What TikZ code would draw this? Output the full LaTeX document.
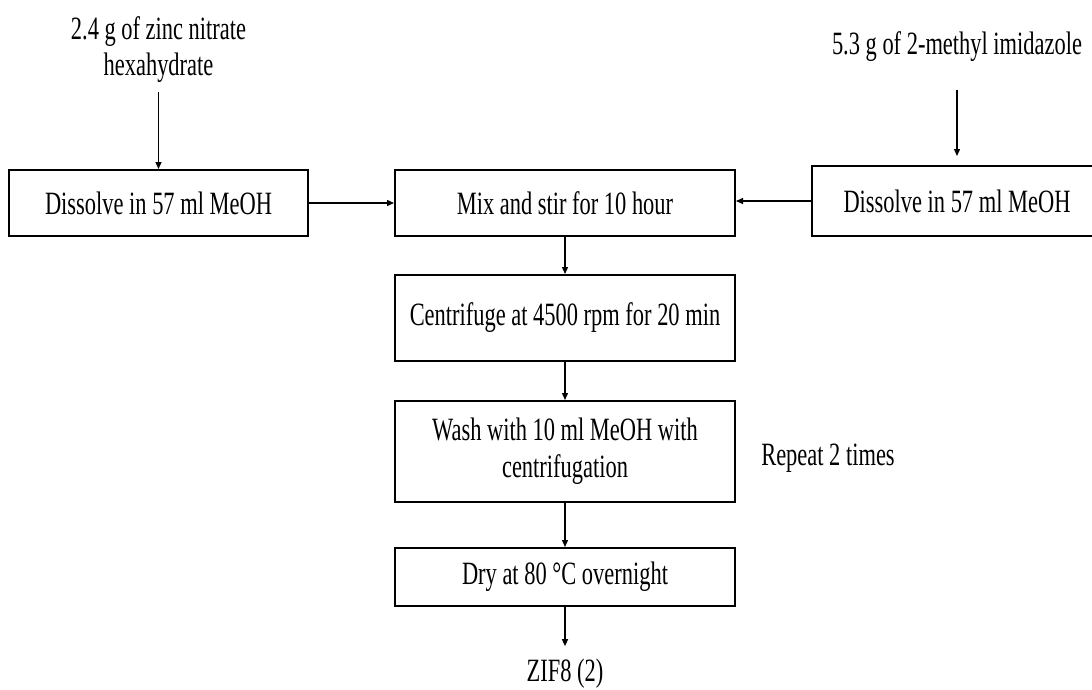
\documentclass[tikz,border=0pt]{standalone}
\usepackage{fontspec}
\setmainfont{Liberation Serif}[FakeStretch=0.69]
\usetikzlibrary{arrows.meta}

\begin{document}
\begin{tikzpicture}[
    x=0.75pt, y=-0.75pt,
    txt/.style={font=\fontsize{24.4pt}{27.5pt}\selectfont, inner sep=0pt, align=center},
    stepbox/.style={txt, draw=black, line width=1.5pt},
    arr/.style={draw=black, line width=1pt, -{Triangle[length=5.25pt,width=4.5pt]}}
  ]
  \useasboundingbox (0,0) rectangle (1092,689);

  % raw materials
  \node[txt, anchor=north] (zn) at (158.5,16) {2.4 g of zinc nitrate\\hexahydrate};
  \node[txt, anchor=base]  (im) at (957,54) {5.3 g of 2-methyl imidazole};

  % process steps
  \node[stepbox, minimum width=224.25pt, minimum height=49.5pt] (dl) at (158.5,203) {Dissolve in 57 ml MeOH};
  \node[stepbox, minimum width=255pt, minimum height=49.5pt]    (mix) at (565,203) {Mix and stir for 10 hour};
  \node[stepbox, minimum width=217.5pt, minimum height=52.5pt]  (dr) at (957,201) {Dissolve in 57 ml MeOH};
  \node[stepbox, minimum width=255pt, minimum height=64.5pt]    (cen) at (565,318) {Centrifuge at 4500 rpm for 20 min};
  \node[stepbox, minimum width=255pt, minimum height=75.75pt]   (wash) at (565,451.5) {Wash with 10 ml MeOH with\\centrifugation};
  \node[stepbox, minimum width=255pt, minimum height=43.5pt]    (dry) at (565,577) {Dry at 80 °C overnight};

  % side note and product
  \node[txt, anchor=base] (rep) at (828,465) {Repeat 2 times};
  \node[txt, anchor=base] (zif) at (565,681) {ZIF8 (2)};

  % connectors
  \draw[arr, shorten <=6.75pt] (zn.south) -- (dl.north);
  \draw[arr, shorten <=21.75pt, shorten >=6.75pt] (im.south) -- (dr.north);
  \draw[arr] (dl.east) -- (mix.west);
  \draw[arr] (dr.west) -- (dr.west -| mix.east);
  \draw[arr] (mix.south) -- (cen.north);
  \draw[arr] (cen.south) -- (wash.north);
  \draw[arr] (wash.south) -- (dry.north);
  \draw[arr, shorten >=9pt] (dry.south) -- (dry.south |- zif.north);
\end{tikzpicture}
\end{document}
